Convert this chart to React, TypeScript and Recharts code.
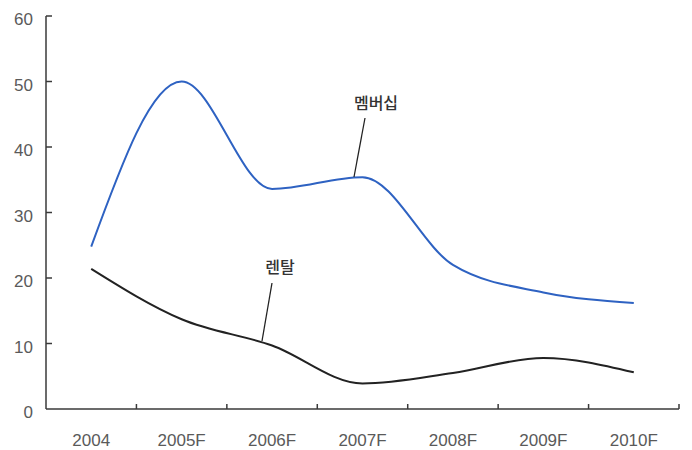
import { LineChart, Line, XAxis, YAxis } from "recharts";

const years = ["2004", "2005F", "2006F", "2007F", "2008F", "2009F", "2010F"];
const membership = [24.8, 50, 33.6, 35.4, 22, 17.8, 16.2];
const rental = [21.4, 13.7, 9.7, 3.9, 5.5, 7.8, 5.6];
const yTicks = [0, 10, 20, 30, 40, 50, 60];

const data = years.map((year, i) => ({
  year,
  membership: membership[i],
  rental: rental[i],
}));

const WIDTH = 692;
const HEIGHT = 450;
const PLOT_LEFT = 46;
const PLOT_RIGHT = 13;
const HALF_BAND = (WIDTH - PLOT_LEFT - PLOT_RIGHT) / years.length / 2;

const AXIS_COLOR = "#3a3a3a";
const TICK_TEXT = "#5a5a5a";
const FONT = "'Liberation Sans', Arial, sans-serif";

// category label at the band centre, tick mark at the band's right edge pointing up
function XTick({ x, y, payload }: any) {
  return (
    <g>
      <text
        x={x}
        y={y + 37}
        textAnchor="middle"
        fontSize={17}
        fontFamily={FONT}
        fill={TICK_TEXT}
      >
        {payload.value}
      </text>
      <line
        x1={x + HALF_BAND}
        x2={x + HALF_BAND}
        y1={y}
        y2={y - 5}
        stroke={AXIS_COLOR}
        strokeWidth={1.5}
      />
    </g>
  );
}

// value label left of the axis, short tick pointing into the plot
function YTick({ x, y, payload }: any) {
  return (
    <g>
      <text
        x={x}
        y={y + 9}
        textAnchor="end"
        fontSize={17}
        fontFamily={FONT}
        fill={TICK_TEXT}
      >
        {payload.value}
      </text>
      {payload.value > 0 && (
        <line
          x1={x + 13}
          x2={x + 19}
          y1={y}
          y2={y}
          stroke={AXIS_COLOR}
          strokeWidth={1.5}
        />
      )}
    </g>
  );
}

export default function App() {
  return (
    <div
      style={{
        position: "absolute",
        left: 0,
        top: 0,
        width: WIDTH,
        height: HEIGHT,
        background: "#fff",
      }}
    >
      <LineChart
        width={WIDTH}
        height={HEIGHT}
        data={data}
        margin={{ top: 16, right: PLOT_RIGHT, bottom: 0, left: 0 }}
      >
        <XAxis
          dataKey="year"
          height={41}
          padding={{ left: HALF_BAND, right: HALF_BAND }}
          axisLine={{ stroke: AXIS_COLOR, strokeWidth: 1.5 }}
          tickLine={false}
          tickSize={0}
          tickMargin={0}
          interval={0}
          tick={<XTick />}
        />
        <YAxis
          width={PLOT_LEFT}
          domain={[0, 60]}
          ticks={yTicks}
          axisLine={{ stroke: AXIS_COLOR, strokeWidth: 1.5 }}
          tickLine={false}
          tickSize={0}
          tickMargin={13}
          interval={0}
          tick={<YTick />}
        />
        <Line
          type="monotone"
          dataKey="membership"
          stroke="#2e62c2"
          strokeWidth={2}
          dot={false}
          isAnimationActive={false}
        />
        <Line
          type="monotone"
          dataKey="rental"
          stroke="#222"
          strokeWidth={2}
          dot={false}
          isAnimationActive={false}
        />
      </LineChart>
      <svg
        width={WIDTH}
        height={HEIGHT}
        style={{ position: "absolute", left: 0, top: 0, pointerEvents: "none" }}
      >
        <g
          fontFamily="'Noto Sans CJK KR', sans-serif"
          fontSize={16}
          fontWeight={500}
          fill="#333"
        >
          <text x={376} y={109} textAnchor="middle">
            멤버십
          </text>
          <text x={280} y={273} textAnchor="middle">
            렌탈
          </text>
        </g>
        <line x1={365} y1={118} x2={354} y2={177} stroke="#222" strokeWidth={1.3} />
        <line x1={272} y1={283} x2={262} y2={341} stroke="#222" strokeWidth={1.3} />
      </svg>
    </div>
  );
}
